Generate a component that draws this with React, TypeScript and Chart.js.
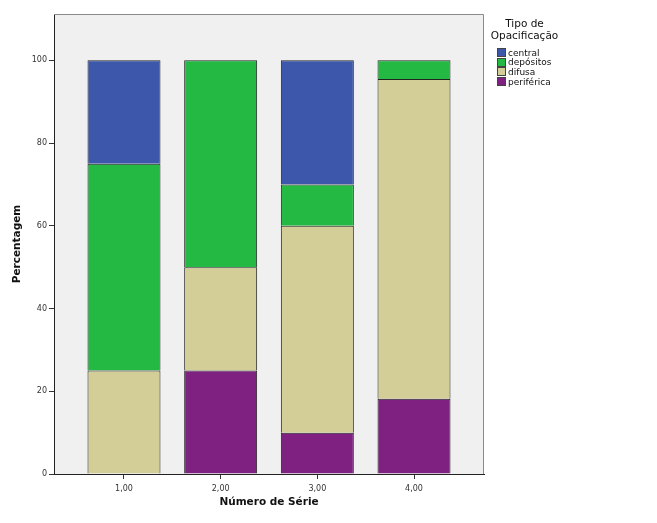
import React, { useEffect, useRef } from "react";
import { Chart, registerables } from "chart.js";

Chart.register(...registerables);

const categories = ["1,00", "2,00", "3,00", "4,00"];
const xValues = [1, 2, 3, 4];
const periferica = [0, 25, 10, 18.2];
const difusa = [25, 25, 50, 77.3];
const depositos = [50, 50, 10, 4.5];
const central = [25, 0, 30, 0];
const yTicks = [0, 20, 40, 60, 80, 100];

const legendItems = [
  { label: "central", color: "#3d57ab" },
  { label: "depósitos", color: "#23b943" },
  { label: "difusa", color: "#d3ce97" },
  { label: "periférica", color: "#7e2180" },
];

const FONT = "'DejaVu Sans', Verdana, sans-serif";

const frame = {
  id: "frame",
  beforeDraw(chart: any) {
    const { ctx, chartArea: a } = chart;
    ctx.save();
    ctx.fillStyle = "#f0f0f0";
    ctx.fillRect(a.left, a.top, a.right - a.left, a.bottom - a.top);
    ctx.restore();
  },
  afterDraw(chart: any) {
    const { ctx, chartArea: a } = chart;
    ctx.save();
    ctx.strokeStyle = "#8a8a8a";
    ctx.lineWidth = 1;
    ctx.beginPath();
    ctx.moveTo(a.left, a.top + 0.5);
    ctx.lineTo(a.right - 0.5, a.top + 0.5);
    ctx.lineTo(a.right - 0.5, a.bottom);
    ctx.stroke();
    ctx.restore();
  },
};

export default function App() {
  const ref = useRef<HTMLCanvasElement>(null);
  useEffect(() => {
    if (!ref.current) return;
    const ds = (label: string, data: number[], color: string) => ({
      label,
      data: data.map((v, i) => ({ x: xValues[i], y: v })),
      backgroundColor: color,
      borderColor: "#222",
      borderWidth: 1,
      barPercentage: 0.755,
      categoryPercentage: 1,
    });
    const chart = new Chart(ref.current, {
      type: "bar",
      data: {
        datasets: [
          ds("periférica", periferica, legendItems[3].color),
          ds("difusa", difusa, legendItems[2].color),
          ds("depósitos", depositos, legendItems[1].color),
          ds("central", central, legendItems[0].color),
        ],
      },
      options: {
        responsive: false,
        animation: false,
        layout: { padding: { left: 11, top: 14, right: 173, bottom: 14 } },
        plugins: { legend: { display: false }, tooltip: { enabled: false } },
        scales: {
          x: {
            type: "linear",
            stacked: true,
            offset: false,
            min: 0.276,
            max: 4.724,
            grid: { display: true, drawOnChartArea: false, offset: false, tickLength: 5, color: "#333" },
            border: { color: "#222" },
            afterBuildTicks: (s: any) => { s.ticks = xValues.map((v) => ({ value: v })); },
            ticks: {
              font: { family: FONT, size: 8 },
              color: "#333",
              padding: 5,
              callback: (v: any) => categories[xValues.indexOf(Number(v))] ?? "",
            },
            title: {
              display: true,
              text: "Número de Série",
              font: { family: FONT, size: 10.5, weight: "bold" },
              color: "#111",
              padding: { top: 0, bottom: 0 },
            },
            afterFit: (s: any) => { s.height = 35; },
          },
          y: {
            stacked: true,
            min: 0,
            max: 111.2,
            grid: { display: true, drawOnChartArea: false, tickLength: 5, color: "#333" },
            border: { color: "#222" },
            ticks: { font: { family: FONT, size: 8 }, color: "#333", padding: 2 },
            afterBuildTicks: (s: any) => { s.ticks = yTicks.map((v) => ({ value: v })); },
            title: {
              display: true,
              text: "Percentagem",
              font: { family: FONT, size: 10.5, weight: "bold" },
              color: "#111",
              padding: { top: 0, bottom: 0 },
            },
            afterFit: (s: any) => { s.width = 43; },
          },
        },
      },
      plugins: [frame],
    });
    return () => chart.destroy();
  }, []);

  return (
    <div style={{ position: "fixed", left: 0, top: 0, width: 657, height: 523, background: "#fff" }}>
      <canvas ref={ref} width={657} height={523} style={{ display: "block" }} />
      <div
        style={{
          position: "absolute",
          left: 472,
          top: 17,
          width: 105,
          textAlign: "center",
          fontFamily: FONT,
          fontSize: 10.5,
          lineHeight: "12px",
          color: "#111",
        }}
      >
        Tipo de
        <br />
        Opacificação
      </div>
      {legendItems.map((it, i) => (
        <div
          key={it.label}
          style={{
            position: "absolute",
            left: 497,
            top: 47 + i * 9.7,
            height: 11,
            display: "flex",
            alignItems: "center",
            fontFamily: FONT,
            fontSize: 9,
            color: "#111",
            whiteSpace: "nowrap",
          }}
        >
          <span
            style={{
              display: "inline-block",
              width: 9,
              height: 9,
              boxSizing: "border-box",
              background: it.color,
              border: "1px solid #444",
              marginRight: 2,
            }}
          />
          {it.label}
        </div>
      ))}
    </div>
  );
}
